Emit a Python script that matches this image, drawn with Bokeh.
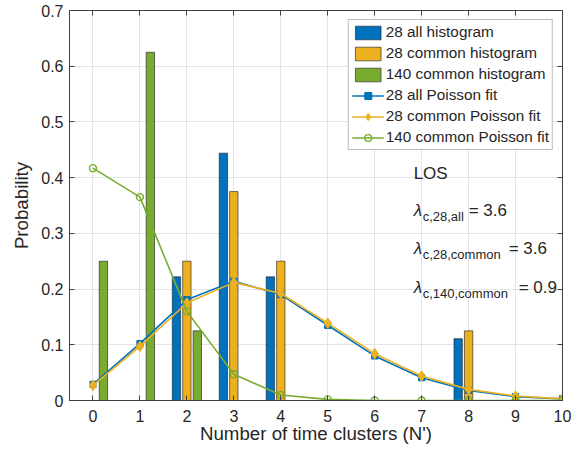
from bokeh.plotting import figure
from bokeh.models import (Range1d, FixedTicker, LinearAxis, Legend, LegendItem,
                          ColumnDataSource)
from bokeh.transform import dodge
from bokeh.core.properties import value
from bokeh.embed import file_html
from bokeh.resources import INLINE

# ---------------- data ----------------
x_ticks = [0, 1, 2, 3, 4, 5, 6, 7, 8, 9, 10]
y_ticks = [0, 0.1, 0.2, 0.3, 0.4, 0.5, 0.6, 0.7]
y_tick_labels = ["0", "0.1", "0.2", "0.3", "0.4", "0.5", "0.6", "0.7"]

hist28all_x = [2, 3, 4, 8]
hist28all_y = [0.222, 0.444, 0.222, 0.111]
hist28com_x = [2, 3, 4, 8]
hist28com_y = [0.25, 0.375, 0.25, 0.125]
hist140com_x = [0, 1, 2]
hist140com_y = [0.25, 0.625, 0.125]

fit_x = [0, 1, 2, 3, 4, 5, 6, 7, 8, 9, 10]
fit28all = [0.029, 0.102, 0.181, 0.214, 0.190, 0.135, 0.080, 0.041, 0.018, 0.007, 0.003]
fit28com = [0.027, 0.097, 0.175, 0.212, 0.192, 0.139, 0.084, 0.044, 0.020, 0.008, 0.003]
fit140com = [0.417, 0.365, 0.160, 0.047, 0.010, 0.002, 0.0, 0.0, 0.0, 0.0, 0.0]

legend_labels = ["28 all histogram", "28 common histogram", "140 common histogram",
                 "28 all Poisson fit", "28 common Poisson fit", "140 common Poisson fit"]

annot_title = "LOS"
lam_subs = ["c,28,all", "c,28,common", "c,140,common"]
lam_vals = ["3.6", "3.6", "0.9"]

x_label = "Number of time clusters (N')"
y_label = "Probability"

# ---------------- style ----------------
FONT = "Liberation Sans"
TXT = "#262626"
AX = "#404040"
BLUE = "#0072BD"
ORANGE = "#EDB120"
GREEN = "#77AC30"
GRID = "#e4e4e4"

p = figure(width=576, height=447, output_backend="svg", toolbar_location=None,
           x_range=Range1d(-0.5, 10), y_range=Range1d(0, 0.7),
           min_border_left=69, min_border_right=14, min_border_top=10,
           min_border_bottom=47, background_fill_color="white")

p.outline_line_color = AX
p.outline_line_width = 1

for ax in (p.xaxis[0], p.yaxis[0]):
    ax.axis_line_color = AX
    ax.major_tick_line_color = AX
    ax.major_tick_in = 5
    ax.major_tick_out = 0
    ax.minor_tick_line_color = None
    ax.major_label_text_font = FONT
    ax.major_label_text_font_size = "16px"
    ax.major_label_text_color = TXT
    ax.axis_label_text_font = FONT
    ax.axis_label_text_font_size = "18.7px"
    ax.axis_label_text_font_style = "normal"
    ax.axis_label_text_color = TXT

p.xaxis[0].ticker = FixedTicker(ticks=x_ticks)
p.yaxis[0].ticker = FixedTicker(ticks=y_ticks)
p.yaxis[0].major_label_overrides = {t: l for t, l in zip(y_ticks, y_tick_labels)}
p.xaxis[0].axis_label = x_label
p.yaxis[0].axis_label = y_label
p.xaxis[0].major_label_standoff = 9
p.xaxis[0].axis_label_standoff = -2
p.yaxis[0].major_label_standoff = 6
p.yaxis[0].axis_label_standoff = 6

# box ticks on top and right (MATLAB style)
for loc in ("above", "right"):
    bx = LinearAxis(ticker=FixedTicker(ticks=x_ticks if loc == "above" else y_ticks),
                    major_tick_in=5, major_tick_out=0, major_label_standoff=0,
                    major_label_text_font_size="0px", major_tick_line_color=AX,
                    minor_tick_line_color=None, axis_line_color=AX,
                    major_label_text_alpha=0)
    p.add_layout(bx, loc)

p.xgrid.ticker = FixedTicker(ticks=x_ticks)
p.ygrid.ticker = FixedTicker(ticks=y_ticks)
p.xgrid.grid_line_color = GRID
p.ygrid.grid_line_color = GRID

# ---------------- bars ----------------
bw = 0.178
off = 0.2222
s1 = ColumnDataSource(dict(x=hist28all_x, y=hist28all_y))
s2 = ColumnDataSource(dict(x=hist28com_x, y=hist28com_y))
s3 = ColumnDataSource(dict(x=hist140com_x, y=hist140com_y))
b1 = p.vbar(x=dodge("x", -off), top="y", width=bw, source=s1,
            fill_color=BLUE, line_color="#1a1a1a", line_width=0.6)
b2 = p.vbar(x=dodge("x", 0.0), top="y", width=bw, source=s2,
            fill_color=ORANGE, line_color="#1a1a1a", line_width=0.6)
b3 = p.vbar(x=dodge("x", off), top="y", width=bw, source=s3,
            fill_color=GREEN, line_color="#1a1a1a", line_width=0.6)

# ---------------- fits ----------------
l1 = p.line(fit_x, fit28all, color=BLUE, line_width=1.6)
m1 = p.scatter(fit_x, fit28all, marker="square", size=6, fill_color=BLUE,
               line_color=BLUE, line_width=1.2)
l2 = p.line(fit_x, fit28com, color=ORANGE, line_width=1.6)
m2 = p.scatter(fit_x, fit28com, marker="diamond", size=10, fill_color=ORANGE,
               line_color=ORANGE, line_width=1.2)
l3 = p.line(fit_x, fit140com, color=GREEN, line_width=1.6)
m3 = p.scatter(fit_x, fit140com, marker="circle", size=7, fill_color=None,
               line_color=GREEN, line_width=1.4)

legend = Legend(items=[
    LegendItem(label=legend_labels[0], renderers=[b1]),
    LegendItem(label=legend_labels[1], renderers=[b2]),
    LegendItem(label=legend_labels[2], renderers=[b3]),
    LegendItem(label=legend_labels[3], renderers=[l1, m1]),
    LegendItem(label=legend_labels[4], renderers=[l2, m2]),
    LegendItem(label=legend_labels[5], renderers=[l3, m3]),
], location="top_right")
legend.margin = 9
legend.padding = 3
legend.spacing = 3
legend.glyph_width = 32
legend.glyph_height = 17
legend.label_height = 17
legend.label_standoff = 2
legend.label_text_font = FONT
legend.label_text_font_size = "15.3px"
legend.label_text_color = TXT
legend.border_line_color = "#777777"
legend.border_line_width = 1
legend.background_fill_color = "white"
legend.background_fill_alpha = 1
p.add_layout(legend, "center")

# ---------------- annotation ----------------
ann_x = 6.83
ann_title_y = 0.407
row_y = [0.341, 0.273, 0.203]
val_offsets = [55, 95, 105]

p.text(x=[ann_x], y=[ann_title_y], text=[annot_title], text_font=value(FONT),
       text_font_size="17px", text_color=TXT, text_baseline="alphabetic")
p.text(x=[ann_x] * 3, y=row_y, text=["λ"] * 3, text_font=value(FONT),
       text_font_size="17px", text_font_style="italic", text_color=TXT,
       text_baseline="alphabetic")
p.text(x=[ann_x] * 3, y=row_y, text=lam_subs, x_offset=9, y_offset=6,
       text_font=value(FONT), text_font_size="13px", text_color=TXT,
       text_baseline="alphabetic")
p.text(x=[ann_x] * 3, y=row_y, text=["= " + v for v in lam_vals],
       x_offset=val_offsets, text_font=value(FONT), text_font_size="17px",
       text_color=TXT, text_baseline="alphabetic")

open("out.html", "w").write(file_html(p, INLINE))
